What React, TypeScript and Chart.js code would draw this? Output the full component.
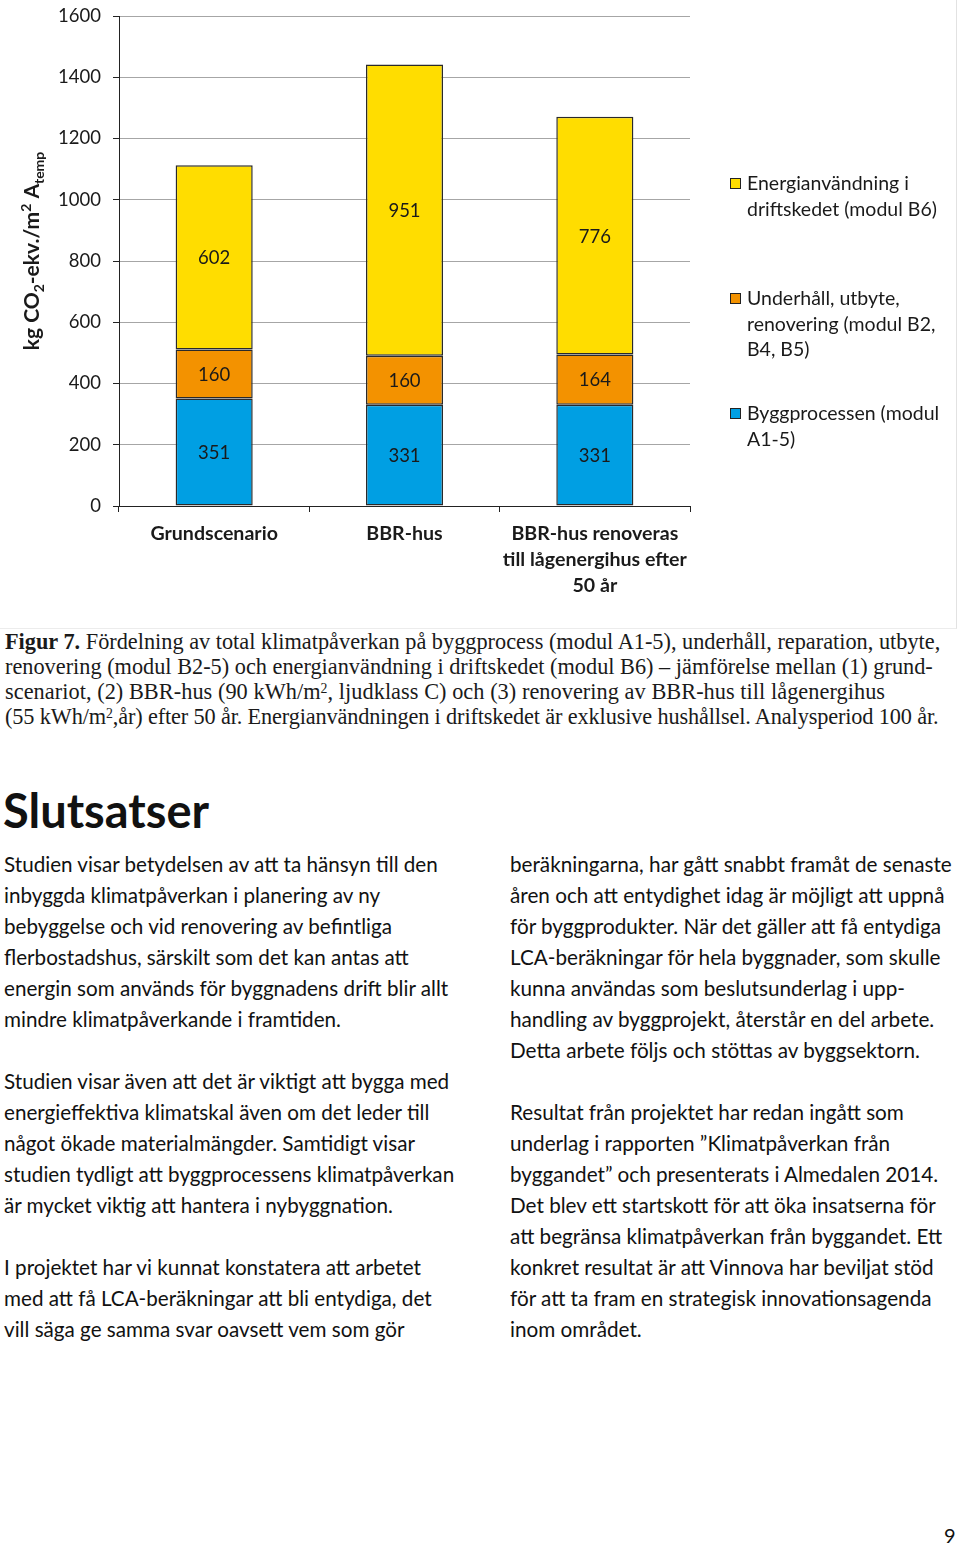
import React, { useEffect, useRef } from "react";
import { Chart, registerables } from "chart.js";

Chart.register(...registerables);

// ---- Data ----
const categories: string[][] = [
  ["Grundscenario"],
  ["BBR-hus"],
  ["BBR-hus renoveras", "till lågenergihus efter", "50 år"],
];
const byggprocessen = [351, 331, 331];
const underhall = [160, 160, 164];
const energianvandning = [602, 951, 776];
const yTickValues = [0, 200, 400, 600, 800, 1000, 1200, 1400, 1600];

const seriesLabels: string[][] = [
  ["Byggprocessen (modul", "A1-5)"],
  ["Underhåll, utbyte,", "renovering (modul B2,", "B4, B5)"],
  ["Energianvändning i", "driftskedet (modul B6)"],
];
const seriesColors = ["#009FE3", "#F39200", "#FFDD00"];

const FONT = "Lato, 'Open Sans', sans-serif";

const leftColumn = `Studien visar betydelsen av att ta hänsyn till den
inbyggda klimatpåverkan i planering av ny
bebyggelse och vid renovering av befintliga
flerbostadshus, särskilt som det kan antas att
energin som används för byggnadens drift blir allt
mindre klimatpåverkande i framtiden.

Studien visar även att det är viktigt att bygga med
energieffektiva klimatskal även om det leder till
något ökade materialmängder. Samtidigt visar
studien tydligt att byggprocessens klimatpåverkan
är mycket viktig att hantera i nybyggnation.

I projektet har vi kunnat konstatera att arbetet
med att få LCA-beräkningar att bli entydiga, det
vill säga ge samma svar oavsett vem som gör`;

const rightColumn = `beräkningarna, har gått snabbt framåt de senaste
åren och att entydighet idag är möjligt att uppnå
för byggprodukter. När det gäller att få entydiga
LCA-beräkningar för hela byggnader, som skulle
kunna användas som beslutsunderlag i upp-
handling av byggprojekt, återstår en del arbete.
Detta arbete följs och stöttas av byggsektorn.

Resultat från projektet har redan ingått som
underlag i rapporten ”Klimatpåverkan från
byggandet” och presenterats i Almedalen 2014.
Det blev ett startskott för att öka insatserna för
att begränsa klimatpåverkan från byggandet. Ett
konkret resultat är att Vinnova har beviljat stöd
för att ta fram en strategisk innovationsagenda
inom området.`;

const dataLabelPlugin = {
  id: "segLabels",
  afterDatasetsDraw(chart: any) {
    const ctx = chart.ctx;
    ctx.save();
    ctx.font = `18.5px ${FONT}`;
    ctx.fillStyle = "#1a1a1a";
    ctx.textAlign = "center";
    ctx.textBaseline = "middle";
    chart.data.datasets.forEach((ds: any, di: number) => {
      const meta = chart.getDatasetMeta(di);
      meta.data.forEach((el: any, i: number) => {
        const y = (el.y + el.base) / 2;
        ctx.fillText(String(ds.data[i]), el.x, y + 1);
      });
    });
    ctx.restore();
  },
};

const legendPlugin = {
  id: "sideLegend",
  afterDraw(chart: any) {
    const ctx = chart.ctx;
    ctx.save();
    ctx.font = `19.5px ${FONT}`;
    ctx.textBaseline = "middle";
    ctx.textAlign = "left";
    const order = [2, 1, 0];
    const starts = [184, 299, 414];
    order.forEach((si, k) => {
      const y0 = starts[k];
      ctx.fillStyle = seriesColors[si];
      ctx.fillRect(730, y0 - 6, 11, 11);
      ctx.strokeStyle = "#222";
      ctx.lineWidth = 1;
      ctx.strokeRect(730.5, y0 - 5.5, 10, 10);
      ctx.fillStyle = "#1a1a1a";
      seriesLabels[si].forEach((line, li) => {
        ctx.fillText(line, 747, y0 + li * 25.5);
      });
    });
    ctx.restore();
  },
};

const yTitlePlugin = {
  id: "yTitle",
  afterDraw(chart: any) {
    const ctx = chart.ctx;
    const big = `bold 21px ${FONT}`;
    const small = `bold 14px ${FONT}`;
    const parts: { t: string; f: string; dy: number }[] = [
      { t: "kg CO", f: big, dy: 0 },
      { t: "2", f: small, dy: 5 },
      { t: "-ekv./m", f: big, dy: 0 },
      { t: "2", f: small, dy: -8 },
      { t: " A", f: big, dy: 0 },
      { t: "temp", f: small, dy: 5 },
    ];
    ctx.save();
    let total = 0;
    parts.forEach((p) => {
      ctx.font = p.f;
      total += ctx.measureText(p.t).width;
    });
    ctx.translate(39, 251);
    ctx.rotate(-Math.PI / 2);
    ctx.fillStyle = "#1a1a1a";
    ctx.textBaseline = "alphabetic";
    ctx.textAlign = "left";
    let x = -total / 2;
    parts.forEach((p) => {
      ctx.font = p.f;
      ctx.fillText(p.t, x, p.dy);
      x += ctx.measureText(p.t).width;
    });
    ctx.restore();
  },
};

function ChartBox() {
  const ref = useRef<HTMLCanvasElement | null>(null);
  useEffect(() => {
    if (!ref.current) return;
    const chart = new Chart(ref.current, {
      type: "bar",
      data: {
        labels: categories as any,
        datasets: [
          { label: seriesLabels[0].join(" "), data: byggprocessen, backgroundColor: seriesColors[0] },
          { label: seriesLabels[1].join(" "), data: underhall, backgroundColor: seriesColors[1] },
          { label: seriesLabels[2].join(" "), data: energianvandning, backgroundColor: seriesColors[2] },
        ].map((d) => ({
          ...d,
          borderColor: "#2a2a2a",
          borderWidth: 1.5,
          borderSkipped: false as any,
          categoryPercentage: 1,
          barPercentage: 0.405,
        })),
      },
      options: {
        responsive: false,
        animation: false,
        layout: { padding: { top: 16, right: 266, left: 0, bottom: 0 } },
        plugins: {
          legend: { display: false },
          tooltip: { enabled: false },
          title: { display: false },
        },
        scales: {
          x: {
            stacked: true,
            grid: {
              drawOnChartArea: false,
              drawTicks: true,
              tickLength: 6,
              tickColor: "#222",
              offset: true,
            },
            border: { color: "#222", width: 1 },
            ticks: {
              color: "#1a1a1a",
              font: { family: FONT, size: 19.6, weight: "bold", lineHeight: 1.33 },
              padding: 9,
              maxRotation: 0,
              autoSkip: false,
            },
            afterFit: (s: any) => {
              s.height = 122;
              s.paddingLeft = 0;
              s.paddingRight = 0;
            },
          },
          y: {
            stacked: true,
            min: 0,
            max: 1600,
            afterBuildTicks: (s: any) => {
              s.ticks = yTickValues.map((v) => ({ value: v }));
            },
            grid: {
              color: "#a6a6a6",
              lineWidth: 1,
              tickColor: "#222",
              tickLength: 6,
              drawTicks: true,
            },
            border: { color: "#222", width: 1 },
            ticks: {
              color: "#1a1a1a",
              font: { family: FONT, size: 18.5 },
              padding: 12,
              callback: (v: any) => String(v),
            },
            afterFit: (s: any) => {
              s.width = 119;
              s.paddingTop = 0;
              s.paddingBottom = 0;
            },
          },
        },
      },
      plugins: [dataLabelPlugin, legendPlugin, yTitlePlugin],
    });
    return () => chart.destroy();
  }, []);
  return <canvas ref={ref} width={956} height={628} style={{ display: "block" }} />;
}

const sup = (t: string) => (
  <span style={{ fontSize: "0.62em", position: "relative", top: "-0.45em", lineHeight: 0 }}>{t}</span>
);

export default function App() {
  const capLine: React.CSSProperties = { whiteSpace: "nowrap", height: 25, lineHeight: "25px" };
  return (
    <div
      style={{
        position: "absolute",
        left: 0,
        top: 0,
        width: 960,
        height: 1544,
        background: "#fff",
        overflow: "hidden",
        color: "#111",
      }}
    >
      <div
        style={{
          position: "absolute",
          left: 0,
          top: 0,
          width: 956,
          height: 628,
          borderRight: "1px solid #e2e2e2",
          borderBottom: "1px solid #ececec",
        }}
      >
        <ChartBox />
      </div>
      <div
        style={{
          position: "absolute",
          left: 5,
          top: 629,
          fontFamily: "'Liberation Serif', serif",
          fontSize: 22.3,
          color: "#1a1a1a",
        }}
      >
        <div style={capLine}>
          <b>Figur 7.</b> Fördelning av total klimatpåverkan på byggprocess (modul A1-5), underhåll, reparation, utbyte,
        </div>
        <div style={capLine}>
          renovering (modul B2-5) och energianvändning i driftskedet (modul B6) – jämförelse mellan (1) grund-
        </div>
        <div style={{ ...capLine, letterSpacing: "0.05px" }}>
          scenariot, (2) BBR-hus (90 kWh/m{sup("2")}, ljudklass C) och (3) renovering av BBR-hus till lågenergihus
        </div>
        <div style={{ ...capLine, letterSpacing: "-0.14px" }}>
          (55 kWh/m{sup("2")},år) efter 50 år. Energianvändningen i driftskedet är exklusive hushållsel. Analysperiod 100 år.
        </div>
      </div>
      <div
        style={{
          position: "absolute",
          left: 3,
          top: 780,
          fontFamily: FONT,
          fontWeight: "bold",
          fontSize: 47,
          lineHeight: "60px",
          color: "#111",
        }}
      >
        Slutsatser
      </div>
      <div
        style={{
          position: "absolute",
          left: 4,
          top: 849,
          fontFamily: FONT,
          fontSize: 20.65,
          lineHeight: "31px",
          whiteSpace: "pre",
          color: "#111",
        }}
      >
        {leftColumn}
      </div>
      <div
        style={{
          position: "absolute",
          left: 510,
          top: 849,
          fontFamily: FONT,
          fontSize: 20.7,
          lineHeight: "31px",
          whiteSpace: "pre",
          color: "#111",
        }}
      >
        {rightColumn}
      </div>
      <div
        style={{
          position: "absolute",
          left: 944,
          top: 1522,
          fontFamily: FONT,
          fontSize: 20,
          lineHeight: "26px",
          color: "#111",
        }}
      >
        9
      </div>
    </div>
  );
}
